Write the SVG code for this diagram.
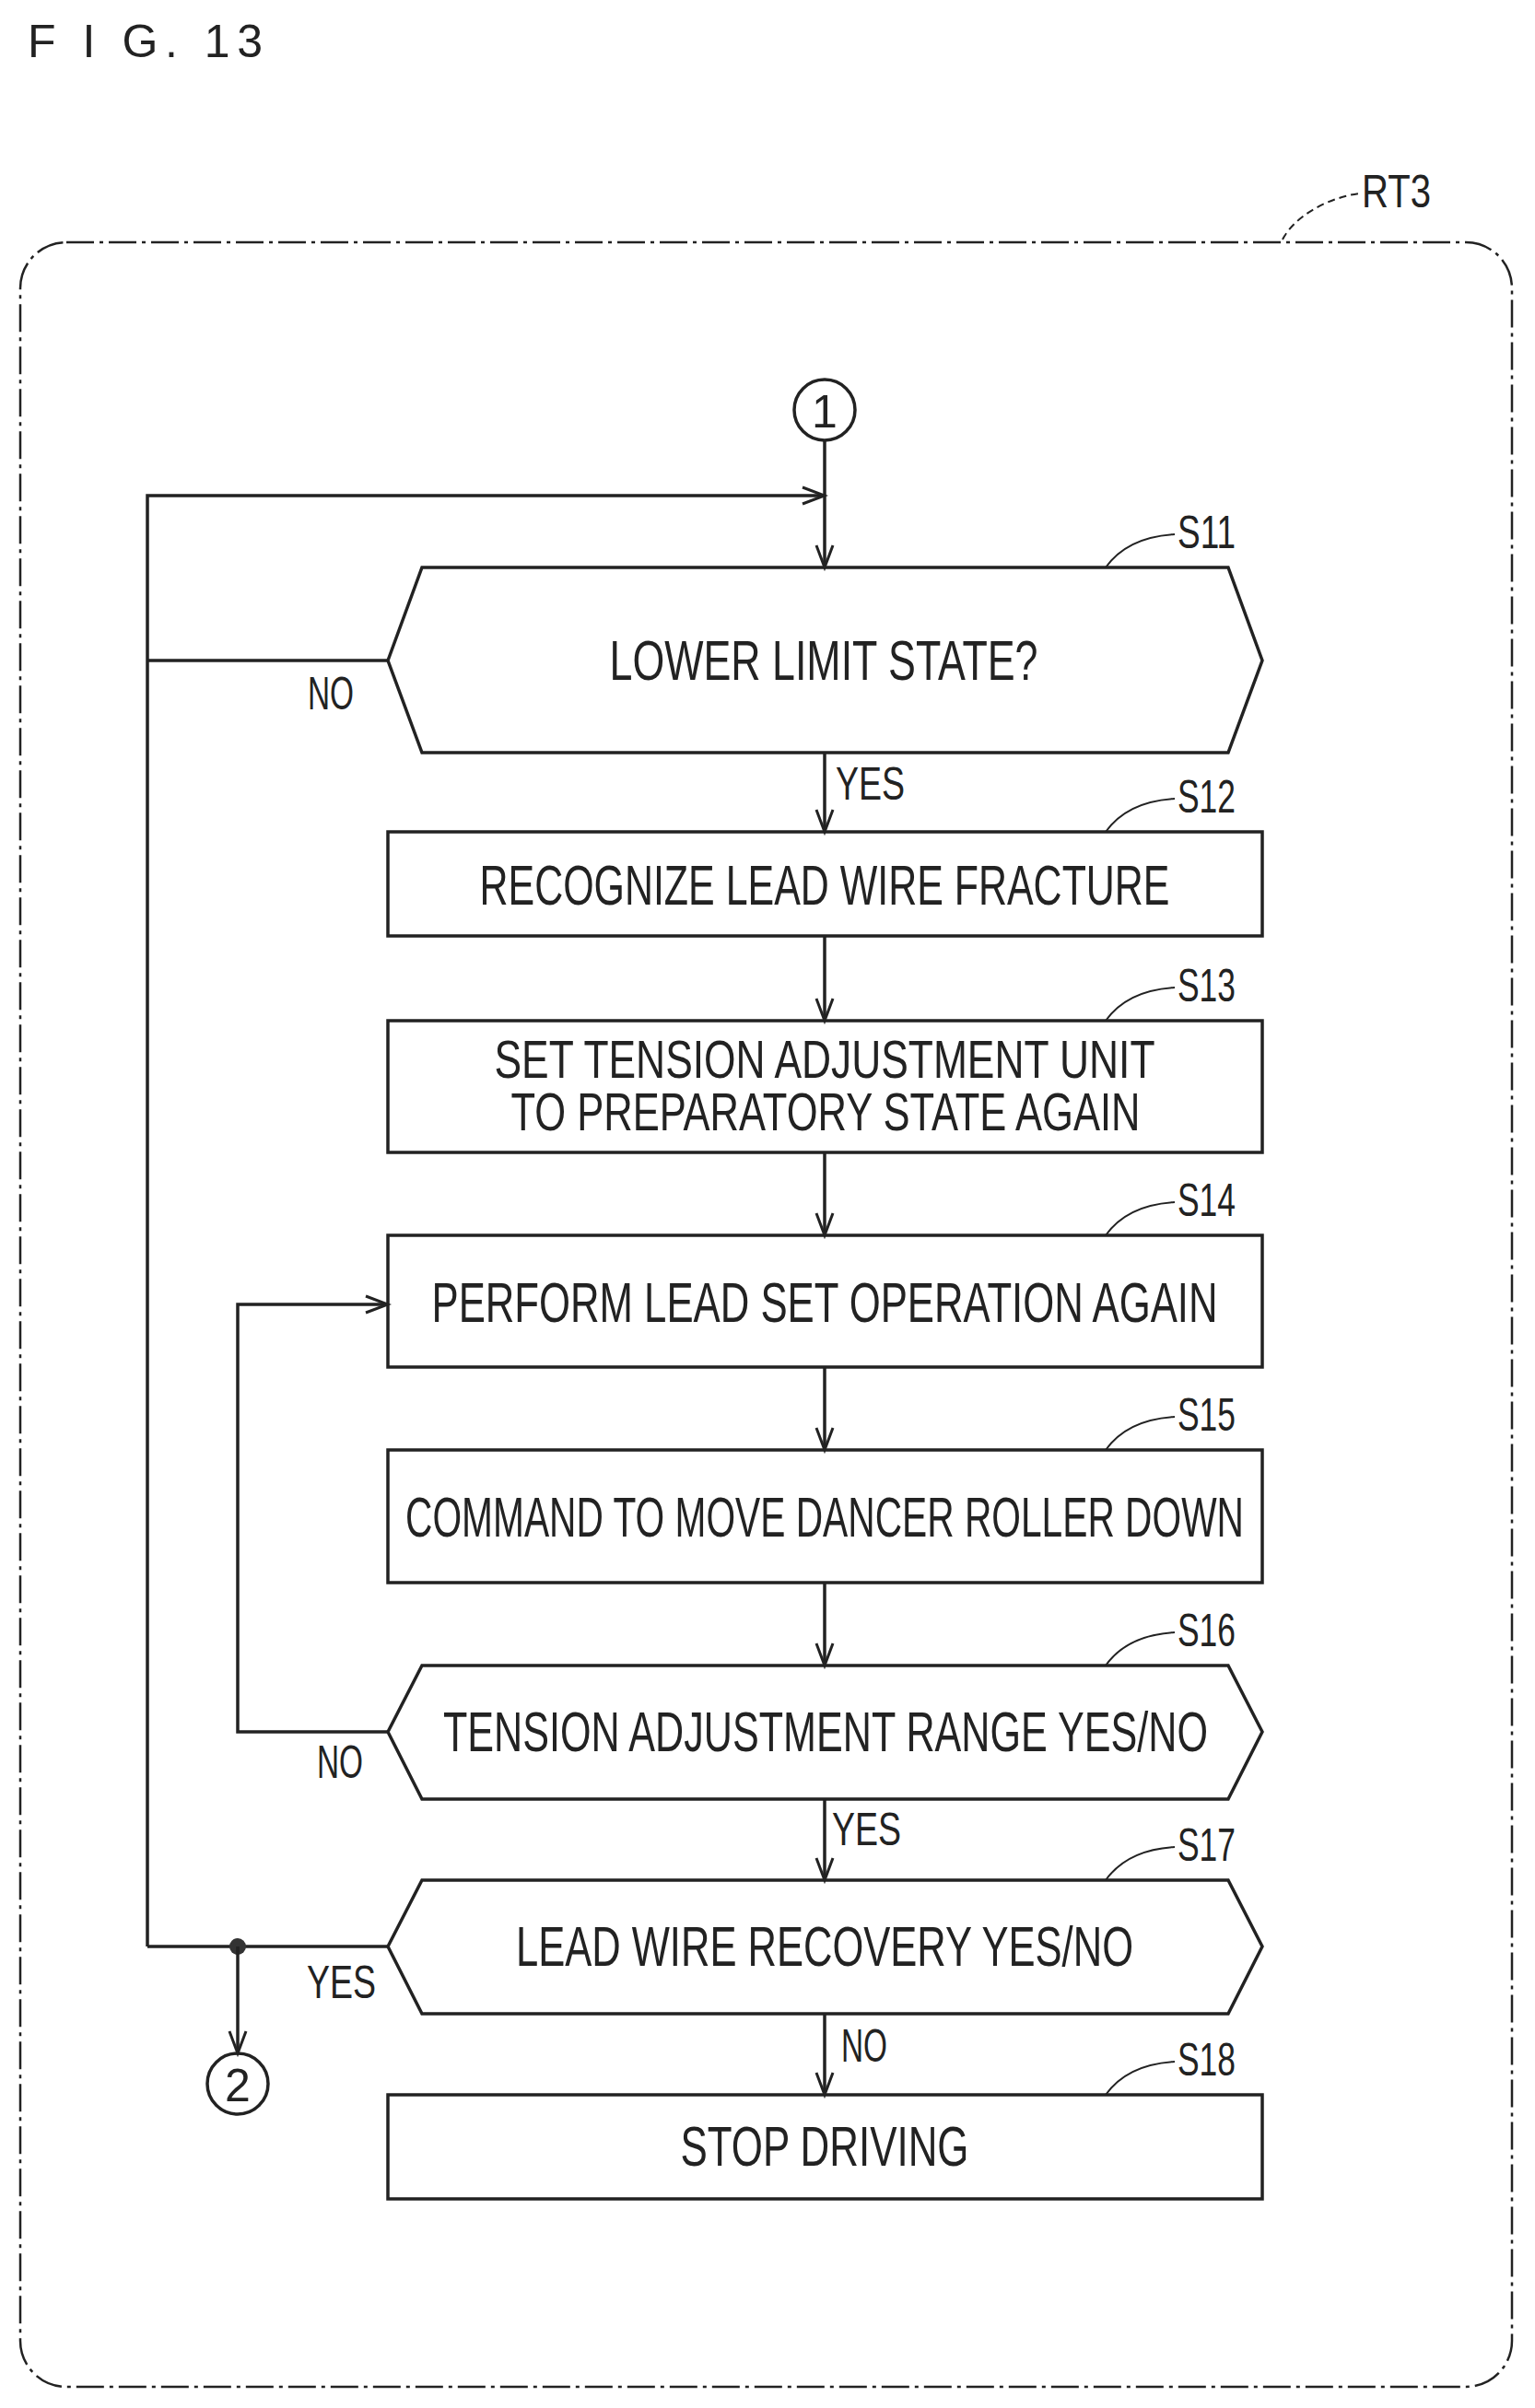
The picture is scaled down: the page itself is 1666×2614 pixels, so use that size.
<svg xmlns="http://www.w3.org/2000/svg" width="1666" height="2614" viewBox="0 0 1666 2614">
<defs>
<style>
.s{fill:none;stroke:#222;stroke-width:3.5}
.t{font-family:"Liberation Sans",Arial,sans-serif;font-size:62px;fill:#222;text-anchor:middle}
.l{font-family:"Liberation Sans",Arial,sans-serif;font-size:50px;fill:#222}
.ld{fill:none;stroke:#222;stroke-width:2;stroke-dasharray:8 5}
</style>
<marker id="a" markerWidth="30" markerHeight="24" refX="26" refY="12" orient="auto" markerUnits="userSpaceOnUse">
<path d="M2,3 L26,12 L2,21" fill="none" stroke="#222" stroke-width="3"/>
</marker>
</defs>
<rect width="1666" height="2614" fill="#fff"/>
<text x="30" y="62" class="l" textLength="255" lengthAdjust="spacing">F I G. 13</text>
<g id="frame">
<rect x="22" y="263" width="1619" height="2328" rx="50" fill="none" stroke="#222" stroke-width="2.5" stroke-dasharray="30 6 4 6"/>
<path class="ld" d="M1392,260 C1405,235 1440,215 1475,210"/>
<text x="1478" y="225" class="l" textLength="75" lengthAdjust="spacingAndGlyphs">RT3</text>
</g>
<g id="c1"><circle cx="895" cy="445" r="33" class="s"/><text x="895" y="464" class="t" style="font-size:50px">1</text></g>
<g id="S11"><polygon class="s" points="421,717 458,616 1333,616 1370,717 1333,817 458,817"/>
<text x="894" y="738" class="t" textLength="465" lengthAdjust="spacingAndGlyphs">LOWER LIMIT STATE?</text>
<path class="s" style="stroke-width:2" d="M1200,616 C1215,595 1240,582 1275,580"/><text x="1278" y="595" class="l" textLength="63" lengthAdjust="spacingAndGlyphs">S11</text></g>
<g id="S12"><rect x="421" y="903" width="949" height="113" class="s"/>
<text x="895" y="982" class="t" textLength="749" lengthAdjust="spacingAndGlyphs">RECOGNIZE LEAD WIRE FRACTURE</text>
<path class="s" style="stroke-width:2" d="M1200,903 C1215,882 1240,869 1275,867"/><text x="1278" y="882" class="l" textLength="63" lengthAdjust="spacingAndGlyphs">S12</text></g>
<g id="S13"><rect x="421" y="1108" width="949" height="143" class="s"/>
<text x="895" y="1170" class="t" style="font-size:57px" textLength="717" lengthAdjust="spacingAndGlyphs">SET TENSION ADJUSTMENT UNIT</text>
<text x="896" y="1227" class="t" style="font-size:57px" textLength="683" lengthAdjust="spacingAndGlyphs">TO PREPARATORY STATE AGAIN</text>
<path class="s" style="stroke-width:2" d="M1200,1108 C1215,1087 1240,1074 1275,1072"/><text x="1278" y="1087" class="l" textLength="63" lengthAdjust="spacingAndGlyphs">S13</text></g>
<g id="S14"><rect x="421" y="1341" width="949" height="143" class="s"/>
<text x="895" y="1435" class="t" textLength="853" lengthAdjust="spacingAndGlyphs">PERFORM LEAD SET OPERATION AGAIN</text>
<path class="s" style="stroke-width:2" d="M1200,1341 C1215,1320 1240,1307 1275,1305"/><text x="1278" y="1320" class="l" textLength="63" lengthAdjust="spacingAndGlyphs">S14</text></g>
<g id="S15"><rect x="421" y="1574" width="949" height="144" class="s"/>
<text x="895" y="1668" class="t" textLength="910" lengthAdjust="spacingAndGlyphs">COMMAND TO MOVE DANCER ROLLER DOWN</text>
<path class="s" style="stroke-width:2" d="M1200,1574 C1215,1553 1240,1540 1275,1538"/><text x="1278" y="1553" class="l" textLength="63" lengthAdjust="spacingAndGlyphs">S15</text></g>
<g id="S16"><polygon class="s" points="421,1880 458,1808 1333,1808 1370,1880 1333,1953 458,1953"/>
<text x="896" y="1901" class="t" textLength="830" lengthAdjust="spacingAndGlyphs">TENSION ADJUSTMENT RANGE YES/NO</text>
<path class="s" style="stroke-width:2" d="M1200,1808 C1215,1787 1240,1774 1275,1772"/><text x="1278" y="1787" class="l" textLength="63" lengthAdjust="spacingAndGlyphs">S16</text></g>
<g id="S17"><polygon class="s" points="421,2113 458,2041 1333,2041 1370,2113 1333,2186 458,2186"/>
<text x="895" y="2134" class="t" textLength="670" lengthAdjust="spacingAndGlyphs">LEAD WIRE RECOVERY YES/NO</text>
<path class="s" style="stroke-width:2" d="M1200,2041 C1215,2020 1240,2007 1275,2005"/><text x="1278" y="2020" class="l" textLength="63" lengthAdjust="spacingAndGlyphs">S17</text></g>
<g id="S18"><rect x="421" y="2274" width="949" height="113" class="s"/>
<text x="895" y="2351" class="t" textLength="313" lengthAdjust="spacingAndGlyphs">STOP DRIVING</text>
<path class="s" style="stroke-width:2" d="M1200,2274 C1215,2253 1240,2240 1275,2238"/><text x="1278" y="2253" class="l" textLength="63" lengthAdjust="spacingAndGlyphs">S18</text></g>
<g id="c2"><circle cx="258" cy="2262" r="33" class="s"/><text x="258" y="2281" class="t" style="font-size:50px">2</text></g>
<g id="connectors">
<path class="s" marker-end="url(#a)" d="M895,478 L895,616"/>
<path class="s" marker-end="url(#a)" d="M160,2113 L160,538 L895,538"/>
<path class="s" d="M421,717 L160,717"/>
<path class="s" d="M421,2113 L160,2113"/>
<path class="s" marker-end="url(#a)" d="M895,817 L895,903"/>
<path class="s" marker-end="url(#a)" d="M895,1016 L895,1108"/>
<path class="s" marker-end="url(#a)" d="M895,1251 L895,1341"/>
<path class="s" marker-end="url(#a)" d="M895,1484 L895,1574"/>
<path class="s" marker-end="url(#a)" d="M895,1718 L895,1808"/>
<path class="s" marker-end="url(#a)" d="M895,1953 L895,2041"/>
<path class="s" marker-end="url(#a)" d="M895,2186 L895,2274"/>
<path class="s" marker-end="url(#a)" d="M421,1880 L258,1880 L258,1416 L421,1416"/>
<circle cx="258" cy="2113" r="9" fill="#333"/>
<path class="s" marker-end="url(#a)" d="M258,2113 L258,2229"/>
<text x="334" y="770" class="l" textLength="50" lengthAdjust="spacingAndGlyphs">NO</text>
<text x="907" y="868" class="l" textLength="75" lengthAdjust="spacingAndGlyphs">YES</text>
<text x="344" y="1930" class="l" textLength="50" lengthAdjust="spacingAndGlyphs">NO</text>
<text x="903" y="2003" class="l" textLength="75" lengthAdjust="spacingAndGlyphs">YES</text>
<text x="333" y="2169" class="l" textLength="75" lengthAdjust="spacingAndGlyphs">YES</text>
<text x="913" y="2238" class="l" textLength="50" lengthAdjust="spacingAndGlyphs">NO</text>
</g>
</svg>
